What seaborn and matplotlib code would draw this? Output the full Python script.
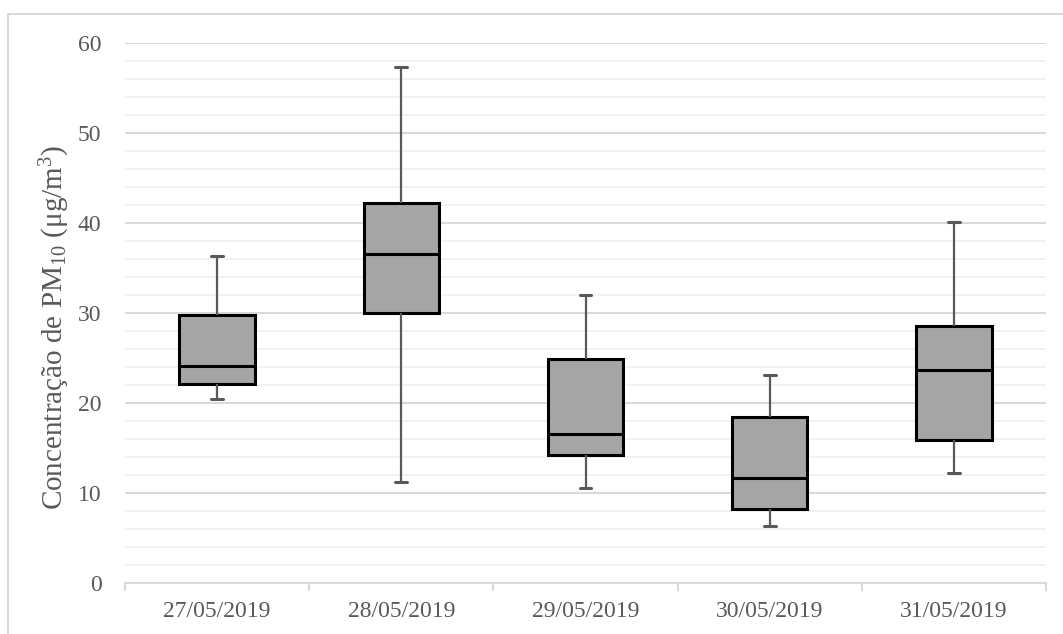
import matplotlib
matplotlib.use("Agg")
import matplotlib.pyplot as plt
from matplotlib.patches import Rectangle
from matplotlib.ticker import MultipleLocator, FixedLocator, NullFormatter
import numpy as np
import pandas as pd
import seaborn as sns

# Daily PM10 summary: whisker ends, quartiles and median (µg/m³)
days = ["27/05/2019", "28/05/2019", "29/05/2019", "30/05/2019", "31/05/2019"]
pm_min = [20.5, 11.2, 10.6, 6.4, 12.3]
pm_q1 = [22.1, 30.0, 14.3, 8.2, 15.9]
pm_median = [24.2, 36.6, 16.6, 11.7, 23.7]
pm_q3 = [29.8, 42.3, 24.9, 18.5, 28.6]
pm_max = [36.4, 57.4, 32.0, 23.2, 40.1]

# Five-number summary per day; with whiskers spanning 0–100 % the boxplot
# reproduces exactly these statistics.
rows = []
for i, d in enumerate(days):
    for v in (pm_min[i], pm_q1[i], pm_median[i], pm_q3[i], pm_max[i]):
        rows.append({"dia": d, "pm10": v})
df = pd.DataFrame(rows)

sns.set_theme(style="white")
plt.rcParams["font.family"] = ["Liberation Serif", "DejaVu Serif"]
plt.rcParams["mathtext.fontset"] = "custom"
plt.rcParams["mathtext.rm"] = "Liberation Serif"
plt.rcParams["mathtext.it"] = "Liberation Serif:italic"

fig = plt.figure(figsize=(10.63, 6.34), dpi=100)
ax = fig.add_axes([125 / 1063, 1 - 583.3 / 634, 921 / 1063, 540 / 634])

sns.boxplot(
    data=df, x="dia", y="pm10", order=days, ax=ax,
    whis=(0, 100), showfliers=False, width=0.41,
    color="#A5A5A5", saturation=1, linecolor="black", linewidth=2.2,
    whiskerprops=dict(color="#595959", linewidth=1.6),
    capprops=dict(color="#595959", linewidth=2.2),
    medianprops=dict(color="black", linewidth=2.2),
    capwidths=0.065,
)

ax.set_ylim(0, 60)
ax.set_xlim(-0.5, len(days) - 0.5)

# Gridlines: major every 10, minor every 2
ax.yaxis.set_major_locator(MultipleLocator(10))
ax.yaxis.set_minor_locator(MultipleLocator(2))
ax.grid(axis="y", which="major", color="#D9D9D9", linewidth=1.5, zorder=0)
ax.grid(axis="y", which="minor", color="#F2F2F2", linewidth=1.5, zorder=0)
ax.grid(axis="x", visible=False)
ax.set_axisbelow(True)

for side in ("top", "right", "left"):
    ax.spines[side].set_visible(False)
ax.spines["bottom"].set_color("#D9D9D9")
ax.spines["bottom"].set_linewidth(1.5)

# Category separators as small tick marks below the axis
ax.xaxis.set_minor_locator(FixedLocator(np.arange(-0.5, len(days), 1.0)))
ax.xaxis.set_minor_formatter(NullFormatter())
ax.tick_params(axis="x", which="minor", length=6, width=1.5, color="#D9D9D9", bottom=True)
ax.tick_params(axis="x", which="major", length=0, pad=13, labelsize=17, labelcolor="#595959")
ax.tick_params(axis="y", which="both", length=0, pad=17, labelsize=17, labelcolor="#595959")

ax.set_xlabel("")
ax.set_ylabel(r"Concentração de PM$_{10}$ ($\mathrm{\mu}$g/m$^{3}$)", fontsize=21, color="#595959")
ax.yaxis.set_label_coords(-0.058, 0.473)

# Light frame around the chart area
fig.add_artist(Rectangle((7.5 / 1063, -0.1), 1.2, 1 - 14 / 634 + 0.1,
                         transform=fig.transFigure, fill=False,
                         edgecolor="#D9D9D9", linewidth=1.5))

fig.savefig("out.png", dpi=100, facecolor="white")
